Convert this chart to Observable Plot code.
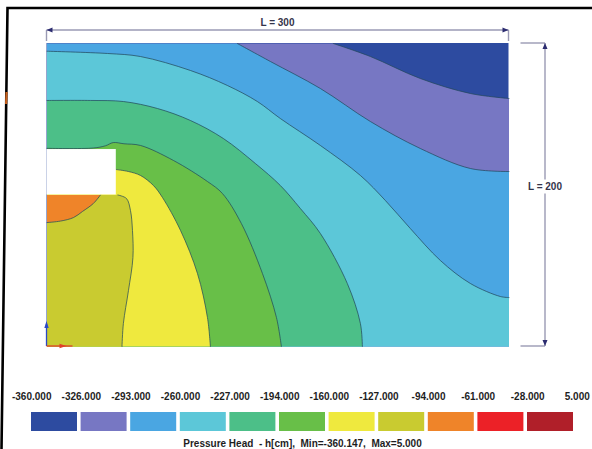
<!DOCTYPE html>
<html><head><meta charset="utf-8">
<script src="https://cdn.jsdelivr.net/npm/d3@7"></script>
<script src="https://cdn.jsdelivr.net/npm/@observablehq/plot@0.6"></script>
<style>
html,body{margin:0;padding:0;background:#fff}
body{width:592px;height:449px;overflow:hidden;position:relative;font-family:"Liberation Sans",Arial,sans-serif}
#chart{position:absolute;left:0;top:0}
#legend{position:absolute;left:0;top:380px}
#deco{position:absolute;left:0;top:0;pointer-events:none}
</style></head><body>
<div id="chart"></div><div id="legend"></div>
<svg id="deco" width="592" height="449"></svg>
<script>
// Domain size
const W = 300, H = 200;
// Cut-out (white hole) extents
const holeX = [0, 45], holeY = [100, 130];
// Contour thresholds (legend tick labels)
const levels = [-360, -326, -293, -260, -227, -194, -160, -127, -94, -61, -28, 5];
// Band colors (one per interval)
const colors = ["#2d4ba0","#7777c3","#4aa6e2","#5cc7d8","#4cbf88","#68bf48","#efe93e","#c9cb30","#ef8429","#ec2127","#b01f29"];
const minValue = -360.147, maxValue = 5.000;
// Isolines: [x, y] in domain units
const iso326 = [[185.9,200],[210,191.4],[242.4,176.9],[274.9,167],[300,163.7]];
const iso293 = [[123.6,200],[145.1,188.1],[177.5,170.3],[210,148.5],[242.4,130.7],[274.9,117.5],[300,115.5]];
const iso260 = [[0,194.9],[39.3,193.4],[60.7,191.4],[93.1,182.2],[117.1,172.3],[136.6,161.7],[151.5,150.5],[177.5,132.7],[203.5,112.9],[219.7,96.4],[235.9,77.9],[255.4,56.8],[274.9,41.6],[294.4,33],[300,32.3]];
const iso227 = [[0,162.4],[28.2,162.4],[49.6,161.7],[71.7,157.1],[93.1,149.2],[114.5,137.3],[135.3,120.8],[151.5,106.3],[164.5,91.1],[177.5,74.6],[195,41.6],[203.5,15.2],[204.8,0]];
const iso194 = [[0,130.8],[30,131],[38,132.5],[43,134.6],[50,133.8],[60.7,132.7],[82.1,122.8],[104.2,108.9],[113.9,101],[126.2,81.2],[139.9,48.2],[149,19.1],[152.2,0]];
const iso160 = [[45,116.8],[52.9,115.5],[60.7,112.9],[69.1,106.3],[75,98.3],[86.7,76.6],[97.7,48.2],[104.2,19.1],[106.1,0]];
const iso127 = [[46,100],[51.6,97.7],[54.2,89.8],[55.5,76.6],[55.8,58.7],[52.9,36.9],[49.6,15.2],[48.7,0]];
const iso94  = [[34.7,100],[30.1,94.4],[23,89.1],[17.2,85.1],[8.8,82.8],[0,81.8]];

const isolines = [iso326, iso293, iso260, iso227, iso194, iso160, iso127, iso94];

// ---- build filled super-level regions (curve + domain boundary walk) ----
const P = 2 * (W + H);
const corners = [{p:[0,0],t:0},{p:[0,H],t:H},{p:[W,H],t:H+W},{p:[W,0],t:2*H+W}];
function snap([x, y]) {
  const d = [x, H - y, W - x, y];
  const k = d.indexOf(Math.min(...d));
  if (k === 0) return {p:[0,y], t:y};
  if (k === 1) return {p:[x,H], t:H + x};
  if (k === 2) return {p:[W,y], t:H + W + (H - y)};
  return {p:[x,0], t:2*H + W + (W - x)};
}
function region(pts) {
  const s = snap(pts[0]), e = snap(pts[pts.length - 1]);
  const span = (s.t - e.t + P) % P;
  const cs = corners.map(c => ({...c, d: (c.t - e.t + P) % P}))
    .filter(c => c.d > 0 && c.d < span).sort((a, b) => a.d - b.d);
  return [...pts, e.p, ...cs.map(c => c.p), s.p];
}
// curve: catmull-rom through the first n points, straight lines for the rest
function partialCR(n) {
  return (context) => {
    const cr = d3.curveCatmullRom(context);
    let i = 0;
    return {
      areaStart() {}, areaEnd() {},
      lineStart() { i = 0; cr.lineStart(); },
      lineEnd() { if (i <= n) cr.lineEnd(); context.closePath(); },
      point(x, y) {
        if (i < n) cr.point(x, y);
        else { if (i === n) cr.lineEnd(); context.lineTo(x, y); }
        i++;
      }
    };
  };
}

const fillMarks = isolines.map((pts, k) =>
  Plot.line(region(pts), {x: d => d[0], y: d => d[1], fill: colors[k + 1], stroke: "none", curve: partialCR(pts.length)})
);
const lineMarks = isolines.map(pts =>
  Plot.line(pts, {x: d => d[0], y: d => d[1], stroke: "#22475a", strokeOpacity: 0.8, strokeWidth: 0.9, curve: "catmull-rom"})
);

const chart = Plot.plot({
  width: 592, height: 380,
  marginLeft: 46.5, marginRight: 83.5, marginTop: 43, marginBottom: 34,
  x: {domain: [0, W], axis: null},
  y: {domain: [0, H], axis: null},
  marks: [
    Plot.rect([{x1: 0, x2: W, y1: 0, y2: H}], {x1: "x1", x2: "x2", y1: "y1", y2: "y2", fill: colors[0]}),
    ...fillMarks,
    ...lineMarks,
    Plot.rect([{x1: holeX[0], x2: holeX[1], y1: holeY[0], y2: holeY[1]}], {x1: "x1", x2: "x2", y1: "y1", y2: "y2", fill: "white"})
  ]
});
document.getElementById("chart").appendChild(chart);

// ---- legend ----
const bins = colors.map((c, i) => ({i, c}));
const caption = `Pressure Head  - h[cm],  Min=${minValue.toFixed(3)},  Max=${maxValue.toFixed(3)}`;
const legend = Plot.plot({
  width: 592, height: 69,
  marginLeft: 29.2, marginRight: 17.2, marginTop: 32, marginBottom: 18,
  style: {fontFamily: "'Liberation Sans', Arial, sans-serif", background: "transparent"},
  x: {domain: [0, colors.length], axis: null},
  marks: [
    Plot.rect(bins, {x1: d => d.i, x2: d => d.i + 1, fill: d => d.c, insetLeft: 1.8, insetRight: 1.8}),
    Plot.text(levels, {x: (d, i) => i, text: d => d.toFixed(3), frameAnchor: "top", dy: -13, dx: 2,
      lineAnchor: "bottom", fontWeight: "bold", fontSize: 10, fill: "#1e1e1e"}),
    Plot.text([caption], {text: d => d, frameAnchor: "bottom", dy: 15.5, lineAnchor: "bottom",
      fontWeight: "bold", fontSize: 10, fill: "#1e1e1e"})
  ]
});
document.getElementById("legend").appendChild(legend);

// ---- decorations: dimension lines, frame, origin triad (positions from the plot scales) ----
const sx = chart.scale("x"), sy = chart.scale("y");
const xL = sx.apply(0), xR = sx.apply(W), yT = sy.apply(H), yB = sy.apply(0);
const deco = d3.select("#deco");
const dimColor = "#9a9ab4", headColor = "#2c2c70", textColor = "#34344a";
function head(x, y, dir) { // dir: "l","r","u","d"
  const L = 6, w = 2.5;
  let pts;
  if (dir === "l") pts = [[x, y], [x + L, y - w], [x + L, y + w]];
  if (dir === "r") pts = [[x, y], [x - L, y - w], [x - L, y + w]];
  if (dir === "u") pts = [[x, y], [x - w, y + L], [x + w, y + L]];
  if (dir === "d") pts = [[x, y], [x - w, y - L], [x + w, y - L]];
  deco.append("path").attr("d", "M" + pts.join("L") + "Z").attr("fill", headColor);
}
// frame of the figure
deco.append("polyline").attr("points", `1.5,449 7.5,8 592,8`).attr("fill", "none").attr("stroke", "#000").attr("stroke-width", 2.6);
deco.append("line").attr("x1", 6.6).attr("x2", 6.1).attr("y1", 92).attr("y2", 104).attr("stroke", "#c8601c").attr("stroke-width", 2.2);
// top dimension (L = 300)
const yd = yT - 13;
deco.append("line").attr("x1", xL).attr("x2", xR).attr("y1", yd).attr("y2", yd).attr("stroke", dimColor).attr("stroke-width", 1.4);
deco.append("line").attr("x1", xL).attr("x2", xL).attr("y1", yd).attr("y2", yT - 2).attr("stroke", dimColor).attr("stroke-width", 1.4);
deco.append("line").attr("x1", xR).attr("x2", xR).attr("y1", yd).attr("y2", yT - 2).attr("stroke", dimColor).attr("stroke-width", 1.4);
head(xL, yd, "l"); head(xR, yd, "r");
deco.append("text").attr("x", (xL + xR) / 2).attr("y", yd - 4.5).attr("text-anchor", "middle")
  .attr("font-size", 10).attr("font-weight", "bold").attr("fill", textColor).text(`L = ${W}`);
// right dimension (L = 200)
const xd = xR + 36.5;
deco.append("line").attr("x1", xd).attr("x2", xd).attr("y1", yT).attr("y2", yB).attr("stroke", dimColor).attr("stroke-width", 1.4);
deco.append("line").attr("x1", xR + 12).attr("x2", xd).attr("y1", yT).attr("y2", yT).attr("stroke", dimColor).attr("stroke-width", 1.4);
deco.append("line").attr("x1", xR + 12).attr("x2", xd).attr("y1", yB).attr("y2", yB).attr("stroke", dimColor).attr("stroke-width", 1.4);
head(xd, yT, "u"); head(xd, yB, "d");
const ym = (yT + yB) / 2 - 8;
deco.append("rect").attr("x", xd - 21).attr("y", ym - 7).attr("width", 42).attr("height", 14).attr("fill", "#fff");
deco.append("text").attr("x", xd).attr("y", ym + 3.5).attr("text-anchor", "middle")
  .attr("font-size", 10).attr("font-weight", "bold").attr("fill", textColor).text(`L = ${H}`);
// origin triad
deco.append("line").attr("x1", xL).attr("x2", xL).attr("y1", yB).attr("y2", yB - 22).attr("stroke", "#2a48c8").attr("stroke-width", 1.3);
deco.append("path").attr("d", `M${xL},${yB - 25}L${xL - 2.2},${yB - 18}L${xL + 2.2},${yB - 18}Z`).attr("fill", "#2a48c8");
deco.append("line").attr("x1", xL).attr("x2", xL + 26).attr("y1", yB).attr("y2", yB).attr("stroke", "#e0402a").attr("stroke-width", 1.3);
deco.append("path").attr("d", `M${xL + 20},${yB}L${xL + 13},${yB - 2.2}L${xL + 13},${yB + 2.2}Z`).attr("fill", "#e0402a");
</script>
</body></html>
